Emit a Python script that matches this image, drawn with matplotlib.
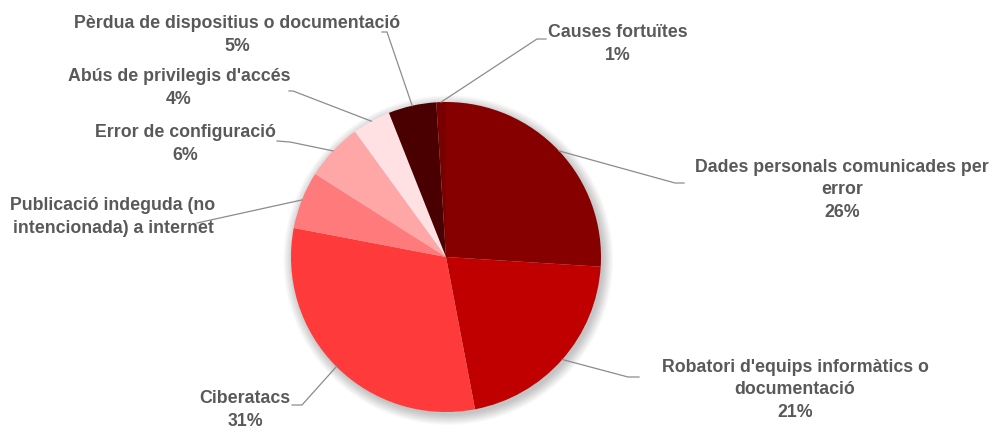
import matplotlib
matplotlib.use("Agg")
import matplotlib.pyplot as plt
import numpy as np

# data, clockwise from 12 o'clock
labels = ["Dades personals comunicades per\nerror",
          "Robatori d'equips informàtics o\ndocumentació",
          "Ciberatacs",
          "Publicació indeguda (no\nintencionada) a internet",
          "Error de configuració",
          "Abús de privilegis d'accés",
          "Pèrdua de dispositius o documentació",
          "Causes fortuïtes"]
values = [26, 21, 31, 6, 6, 4, 5, 1]
show_pct = [True, True, True, False, True, True, True, True]
colors = ["#870000", "#C00000", "#FF3A3A", "#FF7B7B",
          "#FFA6A6", "#FFE0E3", "#4A0000", "#780000"]

# layout in pixels of the 992x428 image (pie centre 446,257, radius 155)
CX, CY, R = 446, 257, 155
label_xy = [(842, 190), (795, 390), (245, 410), (113, 217),
            (185, 144), (179, 88), (237, 35), (618, 44)]
elbow = [(675, 183), (628, 377), (302, 405), (197, 223),
         (290, 142), (293, 91), (387, 32), (537, 39)]
tail = [(684, 183), (639, 377), (292, 405), None,
        (277, 141), (289, 91), (382, 32), (546, 39)]


def px(x, y):
    return (x - CX) / R, (CY - y) / R


fig = plt.figure(figsize=(9.92, 4.28), dpi=100)
ax = fig.add_axes([0, 0, 1, 1])

# soft shadow
for i in range(10):
    c = plt.Circle((0.015, -0.02), 1.0 + i * 0.007, color="black",
                   alpha=0.022, lw=0, zorder=0)
    ax.add_patch(c)

wedges, _ = ax.pie(values, colors=colors, startangle=90, counterclock=False,
                   radius=1, center=(0, 0),
                   wedgeprops=dict(linewidth=0, zorder=1))

tot = sum(values)
cum = 0
for i, v in enumerate(values):
    mid = (cum + v / 2) / tot * 360
    cum += v
    ang = np.deg2rad(90 - mid)
    sx, sy = np.cos(ang), np.sin(ang)
    pts = [(sx, sy), px(*elbow[i])]
    if tail[i] is not None:
        pts.append(px(*tail[i]))
    xs, ys = zip(*pts)
    ax.plot(xs, ys, color="#8c8c8c", lw=0.9, zorder=2)

    txt = labels[i]
    if show_pct[i]:
        txt = txt + "\n" + str(v) + "%"
    lx, ly = px(*label_xy[i])
    ax.text(lx, ly, txt, ha="center", va="center",
            fontsize=12.8, fontweight="bold", color="#595959",
            family="Liberation Sans", linespacing=1.4, zorder=3)

# pie() resets the limits, so set them afterwards
ax.set_xlim(-CX / R, (992 - CX) / R)
ax.set_ylim((CY - 428) / R, CY / R)
ax.set_aspect("equal")
ax.axis("off")

fig.savefig("out.png", dpi=100)
